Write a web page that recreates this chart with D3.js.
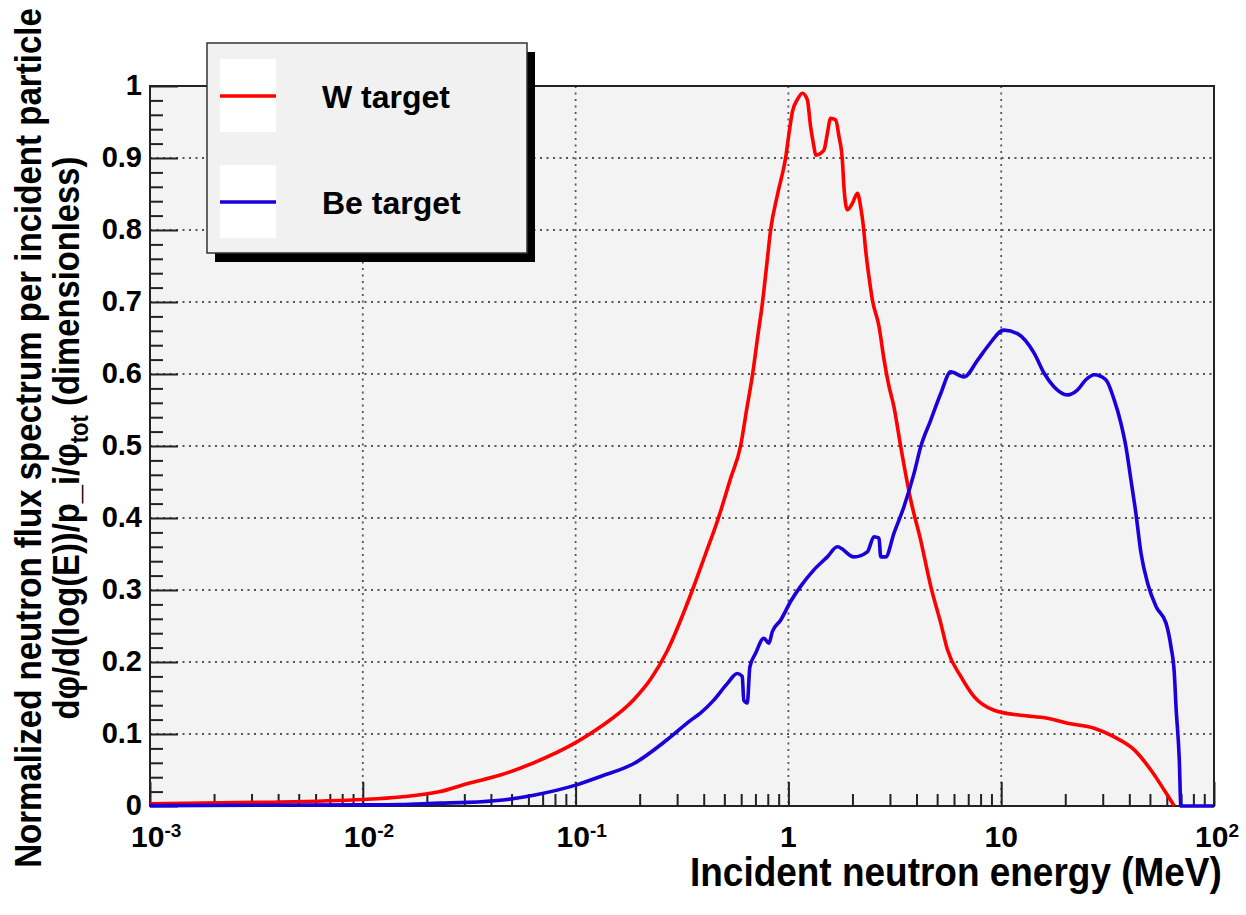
<!DOCTYPE html>
<html>
<head>
<meta charset="utf-8">
<script src="https://cdn.jsdelivr.net/npm/d3@7"></script>
<style>
  html, body { margin: 0; padding: 0; background: #ffffff; }
  svg { display: block; font-family: "Liberation Sans", Arial, Helvetica, sans-serif; }
</style>
</head>
<body>
<svg id="chart" width="1246" height="915"></svg>
<script>
// ---------------- data ----------------
const wEnergy = [0.001, 0.00316, 0.01, 0.015, 0.0231, 0.0309, 0.0443, 0.0635, 0.1, 0.131, 0.188, 0.225, 0.269, 0.354, 0.408, 0.469, 0.535, 0.596, 0.636, 0.679, 0.716, 0.756, 0.79, 0.825, 0.89, 0.97, 1.013, 1.046, 1.101, 1.163, 1.227, 1.272, 1.318, 1.343, 1.469, 1.524, 1.579, 1.667, 1.728, 1.793, 1.824, 1.892, 1.998, 2.11, 2.186, 2.251, 2.307, 2.391, 2.481, 2.666, 2.814, 2.96, 3.135, 3.372, 3.757, 4.186, 4.667, 5.199, 5.591, 6.457, 7.455, 9.26, 12.37, 16.51, 20.5, 27.35, 33.97, 42.2, 50.5, 58.4, 65.1];
const wFlux = [0.003, 0.005, 0.009, 0.0125, 0.02, 0.031, 0.043, 0.06, 0.088, 0.11, 0.148, 0.176, 0.215, 0.3, 0.35, 0.4, 0.455, 0.5, 0.55, 0.6, 0.65, 0.7, 0.75, 0.8, 0.85, 0.9, 0.94, 0.965, 0.981, 0.99, 0.981, 0.943, 0.916, 0.904, 0.911, 0.934, 0.955, 0.953, 0.93, 0.897, 0.86, 0.828, 0.837, 0.851, 0.832, 0.805, 0.772, 0.735, 0.703, 0.666, 0.62, 0.585, 0.554, 0.499, 0.425, 0.369, 0.305, 0.254, 0.217, 0.18, 0.152, 0.133, 0.126, 0.122, 0.115, 0.108, 0.096, 0.078, 0.05, 0.022, 0.0];

const beEnergy = [0.001, 0.01, 0.015, 0.0231, 0.0309, 0.0443, 0.0635, 0.1, 0.131, 0.188, 0.269, 0.347, 0.386, 0.446, 0.516, 0.575, 0.607, 0.617, 0.641, 0.659, 0.701, 0.767, 0.81, 0.84, 0.919, 1.024, 1.141, 1.318, 1.524, 1.698, 2.033, 2.35, 2.524, 2.666, 2.715, 2.866, 3.135, 3.494, 3.894, 4.186, 4.667, 5.199, 5.795, 6.692, 7.736, 8.623, 10.32, 11.93, 14.28, 15.92, 17.74, 20.5, 22.85, 25.0, 27.35, 31.05, 33.97, 36.5, 38.56, 40.7, 42.97, 45.4, 48.8, 53.4, 59.5, 62.8, 65.1, 66.3, 68.7, 69.9, 100];
const beFlux = [0.0005, 0.0015, 0.002, 0.004, 0.005, 0.008, 0.015, 0.029, 0.041, 0.059, 0.092, 0.119, 0.129, 0.147, 0.17, 0.184, 0.18, 0.147, 0.143, 0.193, 0.212, 0.233, 0.226, 0.242, 0.258, 0.284, 0.305, 0.328, 0.346, 0.36, 0.346, 0.353, 0.374, 0.372, 0.346, 0.346, 0.379, 0.416, 0.462, 0.499, 0.536, 0.573, 0.603, 0.596, 0.619, 0.638, 0.661, 0.656, 0.629, 0.601, 0.582, 0.571, 0.578, 0.592, 0.599, 0.592, 0.564, 0.532, 0.499, 0.453, 0.406, 0.351, 0.309, 0.277, 0.254, 0.221, 0.184, 0.138, 0.064, 0, 0];

const seriesNames = ["W target", "Be target"];
const seriesColors = ["#ff0000", "#1a00d9"];

const xMajorTicks = [0.001, 0.01, 0.1, 1, 10, 100];
const xTickBase = ["10", "10", "10", "1", "10", "10"];
const xTickExp = ["-3", "-2", "-1", "", "", "2"];
const yMajorTicks = [0, 0.1, 0.2, 0.3, 0.4, 0.5, 0.6, 0.7, 0.8, 0.9, 1];
const yTickLabels = ["0", "0.1", "0.2", "0.3", "0.4", "0.5", "0.6", "0.7", "0.8", "0.9", "1"];

const xTitle = "Incident neutron energy (MeV)";
const yTitle1 = "Normalized neutron flux spectrum per incident particle";

// ---------------- layout ----------------
const svg = d3.select("#chart");
const L = 150, R = 1214, T = 86, B = 806;

const x = d3.scaleLog().domain([1e-3, 1e2]).range([L, R]);
const y = d3.scaleLinear().domain([0, 1]).range([B, T]);

// squeeze a text horizontally to a target width via a scale transform
function fit(sel, target, prefix) {
  const w = sel.node().getComputedTextLength();
  const s = Math.min(1, target / w);
  sel.attr("transform", `${prefix} scale(${s},1)`);
}

svg.append("rect").attr("width", 1246).attr("height", 915).attr("fill", "#ffffff");

// plot background
svg.append("rect")
  .attr("x", L).attr("y", T).attr("width", R - L).attr("height", B - T)
  .attr("fill", "#f3f3f3");

// grid
const grid = svg.append("g").attr("stroke", "#555").attr("stroke-width", 1.8)
  .attr("stroke-dasharray", "2,4.5");
grid.selectAll("line.gx").data(xMajorTicks.slice(1, -1)).join("line")
  .attr("class", "gx")
  .attr("x1", d => x(d)).attr("x2", d => x(d)).attr("y1", T).attr("y2", B);
grid.selectAll("line.gy").data(yMajorTicks.slice(1, -1)).join("line")
  .attr("class", "gy")
  .attr("x1", L).attr("x2", R).attr("y1", d => y(d)).attr("y2", d => y(d));

// minor x ticks (2..9 per decade)
const xMinor = [];
xMajorTicks.slice(0, -1).forEach(d => { for (let k = 2; k <= 9; k++) xMinor.push(d * k); });

const xAxisMinor = d3.axisBottom(x).tickValues(xMinor).tickSize(-12).tickFormat("");
const xAxisMajor = d3.axisBottom(x).tickValues(xMajorTicks).tickSize(-24).tickFormat("");
[xAxisMinor, xAxisMajor].forEach(ax => {
  const g = svg.append("g").attr("transform", `translate(0,${B})`).call(ax);
  g.select(".domain").remove();
  g.selectAll(".tick line").attr("stroke", "#222").attr("stroke-width", 2);
});

// minor y ticks every 0.02
const yMinor = d3.range(0, 51).map(i => i * 0.02).filter(v => Math.abs(v * 10 - Math.round(v * 10)) > 1e-6);
const yAxisMinor = d3.axisLeft(y).tickValues(yMinor).tickSize(-13).tickFormat("");
const gYmin = svg.append("g").attr("transform", `translate(${L},0)`).call(yAxisMinor);
gYmin.select(".domain").remove();
gYmin.selectAll(".tick line").attr("stroke", "#222").attr("stroke-width", 2);

const yAxisMajor = d3.axisLeft(y).tickValues(yMajorTicks).tickSize(-28).tickPadding(8)
  .tickFormat((d, i) => yTickLabels[i]);
const gY = svg.append("g").attr("transform", `translate(${L},0)`).call(yAxisMajor);
gY.select(".domain").remove();
gY.selectAll(".tick line").attr("stroke", "#222").attr("stroke-width", 2);
gY.selectAll(".tick text")
  .attr("font-family", "Liberation Sans, Arial, sans-serif")
  .attr("font-size", 29).attr("font-weight", "bold").attr("fill", "#000")
  .attr("dy", "0.3em");

// x tick labels with superscripts
const xl = svg.append("g").attr("font-weight", "bold").attr("fill", "#000");
xMajorTicks.forEach((d, i) => {
  const t = xl.append("text").attr("y", 847).attr("font-size", 30);
  if (xTickExp[i]) {
    t.attr("x", x(d) - 19).attr("text-anchor", "start");
    t.append("tspan").text(xTickBase[i]);
    t.append("tspan").attr("font-size", 19).attr("dy", -10).text(xTickExp[i]);
  } else {
    t.attr("x", x(d)).attr("text-anchor", "middle").text(xTickBase[i]);
  }
});

// frame
svg.append("rect")
  .attr("x", L).attr("y", T).attr("width", R - L).attr("height", B - T)
  .attr("fill", "none").attr("stroke", "#222").attr("stroke-width", 2);

// curves
const line = d3.line().x(d => x(d[0])).y(d => y(d[1])).curve(d3.curveMonotoneX);
const wData = d3.zip(wEnergy, wFlux);
const beData = d3.zip(beEnergy, beFlux);
svg.append("path").datum(wData).attr("d", line)
  .attr("fill", "none").attr("stroke", seriesColors[0]).attr("stroke-width", 3.6)
  .attr("stroke-linejoin", "round");
svg.append("path").datum(beData).attr("d", line)
  .attr("fill", "none").attr("stroke", seriesColors[1]).attr("stroke-width", 3.6)
  .attr("stroke-linejoin", "round");

// legend
const lg = svg.append("g");
const lx = 207, ly = 43, lw = 320, lh = 210;
lg.append("rect").attr("x", lx + 8).attr("y", ly + 9).attr("width", lw).attr("height", lh).attr("fill", "#000");
lg.append("rect").attr("x", lx).attr("y", ly).attr("width", lw).attr("height", lh)
  .attr("fill", "#f1f1f1").attr("stroke", "#333").attr("stroke-width", 1.5);
const legendRows = [96, 202];
seriesNames.forEach((name, i) => {
  const cy = legendRows[i];
  lg.append("rect").attr("x", 220).attr("y", cy - 37).attr("width", 56).attr("height", 73).attr("fill", "#ffffff");
  lg.append("line").attr("x1", 220).attr("x2", 276).attr("y1", cy).attr("y2", cy)
    .attr("stroke", seriesColors[i]).attr("stroke-width", 3.4);
  lg.append("text").attr("x", 322).attr("y", cy + 12)
    .attr("font-size", 32).attr("font-weight", "bold").attr("fill", "#000")
    .text(name);
});

// axis titles
const xt = svg.append("text").attr("x", 0).attr("y", 0).attr("text-anchor", "start")
  .attr("font-size", 40).attr("font-weight", "bold").attr("fill", "#000")
  .text(xTitle);
fit(xt, 532, "translate(690,886)");

const yt1 = svg.append("text").attr("x", 0).attr("y", 0)
  .attr("text-anchor", "middle").attr("font-size", 37).attr("font-weight", "bold").attr("fill", "#000")
  .text(yTitle1);
fit(yt1, 860, "translate(41,438) rotate(-90)");

const yt2 = svg.append("text").attr("x", 0).attr("y", 0)
  .attr("text-anchor", "middle").attr("font-size", 37).attr("font-weight", "bold").attr("fill", "#000");
yt2.append("tspan").text("dφ/d(log(E))/p_i/φ");
yt2.append("tspan").attr("font-size", 25).attr("dy", 9).text("tot");
yt2.append("tspan").attr("dy", -9).text(" (dimensionless)");
fit(yt2, 563, "translate(79,438) rotate(-90)");
</script>
</body>
</html>
